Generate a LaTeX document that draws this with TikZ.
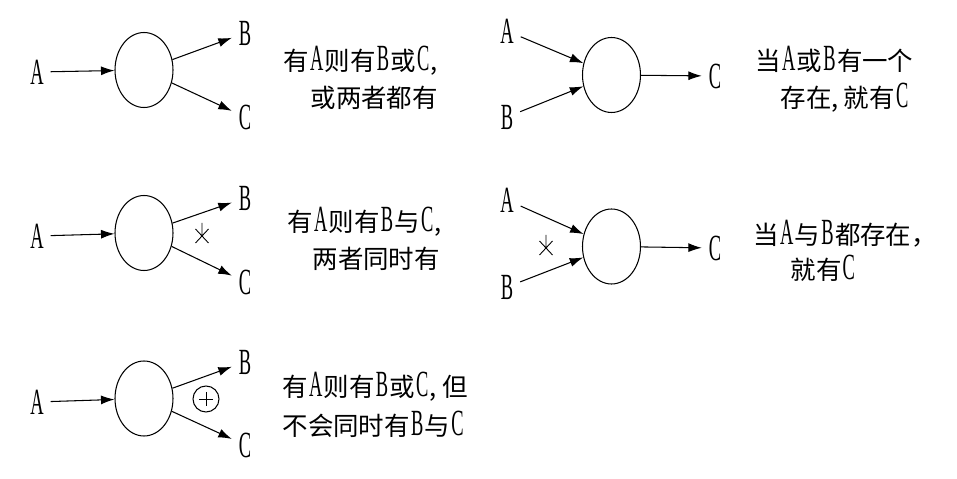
\documentclass[tikz,border=0pt]{standalone}
\usepackage{fontspec}
\usepackage{tikz}
\usetikzlibrary{arrows.meta, shapes.geometric, calc}
\newfontfamily\cjk{Noto Sans CJK SC}
\newfontfamily\latn[FakeStretch=0.5]{Liberation Serif}
\newcommand\lbfont{\latn\fontsize{21}{21}\selectfont}
\newcommand\txfont{\cjk\fontsize{14.5}{20}\selectfont}
\newcommand\lt[1]{\hspace{0.7pt}{\lbfont #1}\hspace{0.7pt}}

\begin{document}
\begin{tikzpicture}[x=0.02cm,y=-0.02cm,line width=0.6pt,
    >={Latex[length=2.7mm,width=1.8mm]},
    blob/.style={draw,ellipse,inner sep=0pt,minimum width=1.16cm,minimum height=1.5cm},
    lbl/.style={inner sep=0pt,outer sep=4pt,font=\lbfont,text height=14pt,text depth=0pt},
    txt/.style={anchor=west,inner sep=0pt,font=\txfont,text height=12pt,text depth=2pt}]
    \useasboundingbox (0,0) rectangle (957,479);

    % top left: A gives B or C, or both
    \node[blob] (n1) at (144,70) {};
    \node[lbl] (a1) at (37,72) {A};
    \node[lbl] (b1) at (245,33) {B};
    \node[lbl] (c1) at (245,117) {C};
    \node[txt] (t1a) at (283,62) {有\lt{A}则有\lt{B}或\lt{C},};
    \node[txt] (t1b) at (310,99) {或两者都有};

    % top right: A or B gives C
    \node[blob] (n2) at (611.5,75) {};
    \node[lbl] (a2) at (507,31) {A};
    \node[lbl] (b2) at (507,117) {B};
    \node[lbl] (c2) at (715,76) {C};
    \node[txt] (t2a) at (755,62) {当\lt{A}或\lt{B}有一个};
    \node[txt] (t2b) at (780,99) {存在,\hspace{3pt}就有\lt{C}};

    % middle left: A gives B and C
    \node[blob] (n3) at (144,233) {};
    \node[lbl] (a3) at (37,236) {A};
    \node[lbl] (b3) at (245,198) {B};
    \node[lbl] (c3) at (245,282) {C};
    \coordinate (s3) at (202,236);
    \node[txt] (t3a) at (287,223) {有\lt{A}则有\lt{B}与\lt{C},};
    \node[txt] (t3b) at (312,260) {两者同时有};

    % middle right: A and B give C
    \node[blob] (n4) at (611.5,246.5) {};
    \node[lbl] (a4) at (507,200) {A};
    \node[lbl] (b4) at (507,287) {B};
    \node[lbl] (c4) at (715,248) {C};
    \coordinate (s4) at (546,248);
    \node[txt] (t4a) at (753,236) {当\lt{A}与\lt{B}都存在，};
    \node[txt] (t4b) at (790,271) {就有\lt{C}};

    % bottom left: A gives B or C, never both
    \node[blob] (n5) at (144,398.5) {};
    \node[lbl] (a5) at (37,402) {A};
    \node[lbl] (b5) at (245,362) {B};
    \node[lbl] (c5) at (245,445) {C};
    \node[draw,circle,inner sep=0pt,minimum size=0.52cm] (x5) at (206,399) {};
    \node[txt] (t5a) at (282,388) {有\lt{A}则有\lt{B}或\lt{C},\hspace{3pt}但};
    \node[txt] (t5b) at (282,427) {不会同时有\lt{B}与\lt{C}};

    \path[->]
    (a1) edge (n1) (n1) edge (b1) (n1) edge (c1)
    (a2) edge (n2) (b2) edge (n2) (n2) edge (c2)
    (a3) edge (n3) (n3) edge (b3) (n3) edge (c3)
    (a4) edge (n4) (b4) edge (n4) (n4) edge (c4)
    (a5) edge (n5) (n5) edge (b5) (n5) edge (c5)
    ;

    % marks
    \foreach \s in {s3,s4}
        \draw[line width=0.5pt] (\s) +(-6.5,-7) -- +(6.5,7) (\s) +(6.5,-7) -- +(-6.5,7) (\s) +(0,-13) -- (\s);
    \draw[line width=0.5pt] (x5) +(-7,0) -- +(7,0) (x5) +(0,-7) -- +(0,7);
\end{tikzpicture}
\end{document}
